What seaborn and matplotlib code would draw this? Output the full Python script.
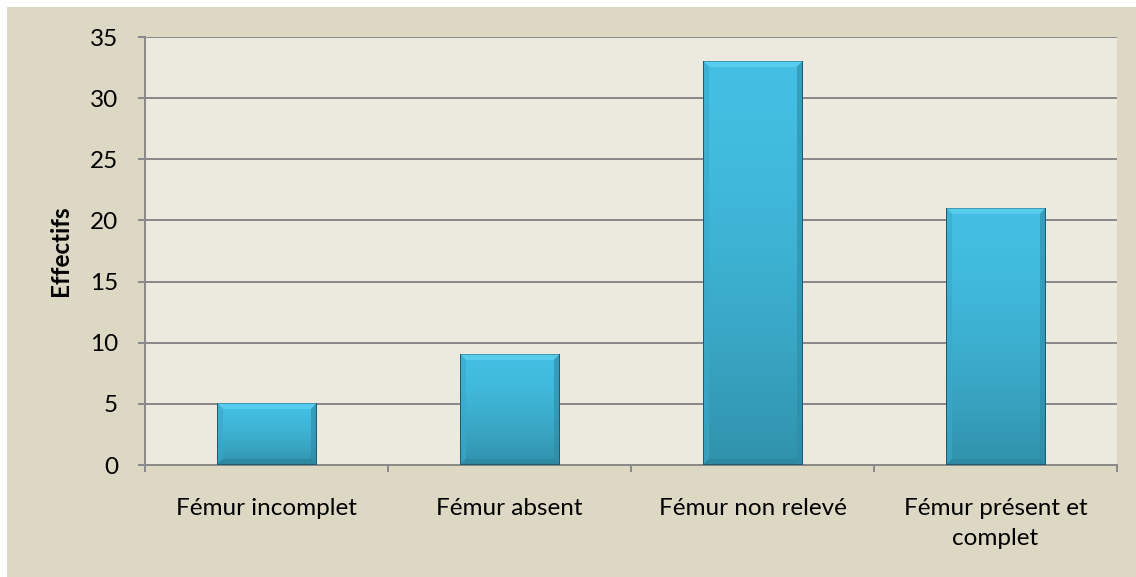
import numpy as np
import pandas as pd
import seaborn as sns
import matplotlib.pyplot as plt
from matplotlib.patches import Rectangle

# Data
categories = ["Fémur incomplet", "Fémur absent", "Fémur non relevé", "Fémur présent et\ncomplet"]
effectifs = [5, 9, 33, 21]
y_ticks = [0, 5, 10, 15, 20, 25, 30, 35]

df = pd.DataFrame({"categorie": categories, "effectif": effectifs})

sns.set_theme(style="white")
plt.rcParams["font.family"] = ["Lato", "DejaVu Sans"]

W, H = 1136, 577
PX = 72 / 100  # points per pixel at 100 dpi
fig = plt.figure(figsize=(W / 100, H / 100), dpi=100, facecolor="white")

# Beige chart-area frame with a thin white margin on the top and left
fig.patches.append(Rectangle((7 / W, 0), 1 - 7 / W, 1 - 7 / H, transform=fig.transFigure,
                             facecolor="#DDD8C3", edgecolor="none", zorder=-10))

ax = fig.add_axes([145 / W, 1 - 465 / H, (1117 - 145) / W, (465 - 37) / H])
ax.set_facecolor("#ECE9DF")

sns.barplot(data=df, x="categorie", y="effectif", color="#3BB6D8", width=0.41,
            ax=ax, zorder=3, edgecolor="none")

ax.set_xlim(-0.5, len(categories) - 0.5)
ax.set_ylim(0, 35)
ax.set_yticks(y_ticks)

grid_col = "#8A8A8A"
lw = 2 * PX
for v in y_ticks[1:]:
    ax.axhline(v, color=grid_col, lw=lw, zorder=1)

for s in ["top", "right"]:
    ax.spines[s].set_visible(False)
for s in ["left", "bottom"]:
    ax.spines[s].set_color(grid_col)
    ax.spines[s].set_linewidth(lw)

fs = 17.5
ax.tick_params(axis="y", length=7 * PX, width=lw, color=grid_col, pad=20 * PX,
               labelsize=fs, labelcolor="black", left=True)
ax.set_xticks(range(len(categories)))
ax.set_xticklabels(categories, fontsize=fs, linespacing=1.55, va="top")
ax.tick_params(axis="x", length=0, pad=33 * PX, labelcolor="black")
ax.set_xticks(np.arange(-0.5, len(categories), 1.0), minor=True)
ax.tick_params(axis="x", which="minor", length=7 * PX, width=lw, color=grid_col, bottom=True)

ax.set_xlabel("")
ax.set_ylabel("Effectifs", fontsize=fs, fontweight="bold", color="black")
ax.yaxis.set_label_coords(-0.075, 0.5)

# Bevelled gradient fill for each bar
fig.canvas.draw()
top_c = np.array([0.26, 0.75, 0.89])
bot_c = np.array([0.19, 0.57, 0.67])
bev_top = np.array([0.40, 0.84, 0.96])
bev_left = np.array([0.23, 0.66, 0.79])
bev_right = np.array([0.18, 0.54, 0.65])
bev_bot = np.array([0.17, 0.51, 0.61])
edge_c = np.array([0.11, 0.36, 0.44])

for p in ax.patches:
    x0, y0 = p.get_x(), p.get_y()
    w, h = p.get_width(), p.get_height()
    (px0, py0), (px1, py1) = ax.transData.transform([(x0, y0), (x0 + w, y0 + h)])
    pw, ph = max(int(round(px1 - px0)), 2), max(int(round(py1 - py0)), 2)
    ii, jj = np.mgrid[0:ph, 0:pw]
    t = (ii / max(ph - 1, 1)) ** 1.6
    img = top_c[None, None, :] * (1 - t[..., None]) + bot_c[None, None, :] * t[..., None]
    dtop, dbot, dl, dr = ii, ph - 1 - ii, jj, pw - 1 - jj
    dmin = np.minimum(np.minimum(dtop, dbot), np.minimum(dl, dr))
    b = 6
    for d, col in [(dtop, bev_top), (dl, bev_left), (dr, bev_right), (dbot, bev_bot)]:
        m = (d == dmin) & (dmin < b)
        # blend bevel colour into the base so the edges stay soft
        img[m] = 0.6 * col + 0.4 * img[m]
    side = (dl == 0) | (dr == 0) | (dbot == 0)
    img[side] = edge_c
    img[(dtop == 0) & ~side] = 0.5 * edge_c + 0.5 * bev_top
    ax.imshow(img, extent=(x0, x0 + w, y0, y0 + h), aspect="auto",
              interpolation="bilinear", zorder=4)
    p.set_visible(False)

ax.set_xlim(-0.5, len(categories) - 0.5)
ax.set_ylim(0, 35)

fig.savefig("out.png", dpi=100, facecolor="white")
